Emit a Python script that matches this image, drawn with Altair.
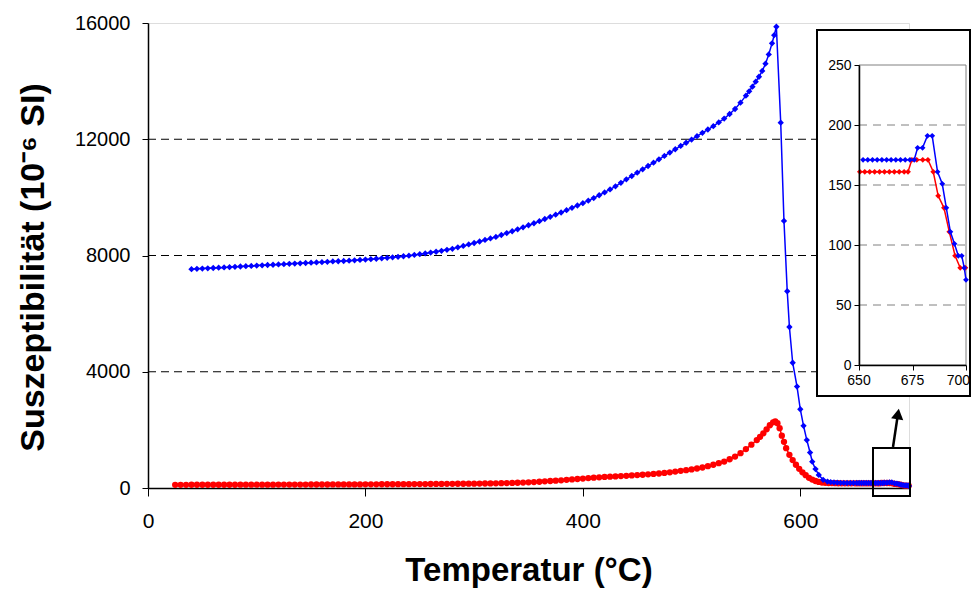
import altair as alt
import pandas as pd

# ---------------- data ----------------
BLUE_T = [40, 45, 50, 55, 60, 65, 70, 75, 80, 85, 90, 95, 100, 105, 110, 115, 120, 125, 130, 135,
          140, 145, 150, 155, 160, 165, 170, 175, 180, 185, 190, 195, 200, 205, 210, 215, 220, 225,
          230, 235, 240, 245, 250, 255, 260, 265, 270, 275, 280, 285, 290, 295, 300, 305, 310, 315,
          320, 325, 330, 335, 340, 345, 350, 355, 360, 365, 370, 375, 380, 385, 390, 395, 400, 405,
          410, 415, 420, 425, 430, 435, 440, 445, 450, 455, 460, 465, 470, 475, 480, 485, 490, 495,
          500, 505, 510, 515, 520, 525, 530, 535, 540, 545, 550,
          553, 556, 559, 562, 565, 568, 571, 574, 576, 578,
          582, 585, 588, 590, 593, 597, 600, 603, 606, 609, 611, 614, 617, 621, 625, 628, 631, 634,
          637, 640, 643, 646, 649,
          651.9, 654.1, 656.3, 658.5, 660.7, 662.9, 665.0, 667.2, 669.4, 671.6, 673.8, 675.8,
          677.4, 679.7, 682.0, 684.2, 686.7, 688.9, 690.8, 692.7, 694.6, 696.4, 698.0, 699.2, 700.0]
BLUE_V = [7530, 7540, 7550, 7560, 7570, 7580, 7590, 7600, 7610, 7621, 7632, 7642, 7652, 7662, 7672,
          7682, 7692, 7702, 7712, 7722, 7732, 7742, 7752, 7762, 7772, 7783, 7795, 7802, 7810, 7822,
          7835, 7847, 7860, 7874, 7888, 7904, 7920, 7937, 7955, 7975, 7995, 8020, 8045, 8072, 8100,
          8130, 8160, 8195, 8230, 8280, 8330, 8380, 8430, 8482, 8535, 8587, 8640, 8705, 8770, 8835,
          8900, 8970, 9040, 9110, 9180, 9255, 9330, 9405, 9480, 9560, 9640, 9720, 9800, 9887, 9975,
          10072, 10170, 10275, 10380, 10500, 10620, 10735, 10850, 10965, 11080, 11195, 11310, 11425,
          11540, 11655, 11770, 11880, 11990, 12105, 12220, 12335, 12450, 12580, 12710, 12870, 13040,
          13260, 13500,
          13650, 13810, 13980, 14150, 14350, 14600, 14920, 15300, 15580, 15870,
          12570, 9190, 6770, 5540, 4310, 3490, 2710, 2140, 1650, 1220, 905, 650, 450, 280, 220, 200,
          190, 182, 178, 175, 173, 172, 171,
          171, 171, 171, 171, 171, 171, 171, 171, 171, 171, 171, 171,
          181, 181, 191, 191, 161, 151, 131, 111, 101, 91, 91, 81, 71]

RED_T = [25, 30, 35, 40, 45, 50, 55, 60, 65, 70, 75, 80, 85, 90, 95, 100, 105, 110, 115, 120, 125,
         130, 135, 140, 145, 150, 155, 160, 165, 170, 175, 180, 185, 190, 195, 200, 205, 210, 215,
         220, 225, 230, 235, 240, 245, 250, 255, 260, 265, 270, 275, 280, 285, 290, 295, 300, 305,
         310, 315, 320, 325, 330, 335, 340, 345, 350, 355, 360, 365, 370, 375, 380, 385, 390, 395,
         400, 405, 410, 415, 420, 425, 430, 435, 440, 445, 450, 455, 460, 465, 470, 475, 480, 485,
         490, 495, 500, 505, 510, 515, 520, 525, 530, 535, 540, 545, 550, 555, 560,
         563, 566, 569, 572, 575, 577, 579, 581, 583, 585, 587, 590, 593, 596, 599, 602, 605, 608,
         611, 614, 617, 620, 623, 626, 629, 632, 635, 638, 641, 644, 647,
         650.4, 652.7, 655.0, 657.3, 659.6, 661.9, 664.2, 666.5, 668.8, 671.1, 672.9,
         674.7, 677.0, 679.8, 682.2, 684.7, 687.0, 689.7, 692.2, 694.9, 697.3, 699.7]
RED_V = [110, 110, 110, 111, 111, 111, 112, 112, 112, 113, 113, 113, 114, 114, 114, 115, 115, 116,
         116, 117, 117, 118, 118, 119, 119, 120, 120, 121, 121, 122, 122, 123, 123, 124, 124, 125,
         126, 127, 128, 129, 130, 131, 132, 133, 134, 135, 136, 138, 139, 141, 142, 144, 145, 147,
         148, 150, 153, 155, 158, 161, 165, 170, 175, 180, 187, 195, 205, 215, 228, 240, 252, 265,
         280, 295, 310, 325, 340, 355, 368, 380, 390, 400, 410, 420, 432, 445, 457, 470, 485, 500,
         520, 540, 565, 590, 615, 640, 670, 705, 750, 800, 855, 910, 990, 1080, 1200, 1340, 1490,
         1650,
         1760, 1880, 2020, 2160, 2260, 2290, 2230, 2060, 1800, 1590, 1370, 1140, 960, 800, 660, 540,
         440, 350, 290, 240, 210, 185, 178, 172, 168, 165, 163, 162, 161, 161, 161,
         161, 161, 161, 161, 161, 161, 161, 161, 161, 161, 161,
         171, 171, 171, 171, 161, 141, 131, 111, 91, 81, 81]

X_TICKS = [0, 200, 400, 600]
Y_TICKS = [0, 4000, 8000, 12000, 16000]
GRID_Y = [4000, 8000, 12000]

INSET_X_TICKS = [650, 675, 700]
INSET_Y_TICKS = [0, 50, 100, 150, 200, 250]
INSET_GRID_Y = [50, 100, 150, 200]

assert len(BLUE_T) == len(BLUE_V) and len(RED_T) == len(RED_V)

blue = pd.DataFrame({"T": BLUE_T, "V": BLUE_V})
red = pd.DataFrame({"T": RED_T, "V": RED_V})
blue_in = blue[blue["T"] >= 650]
red_in = red[red["T"] >= 650]
one = pd.DataFrame({"a": [0]})

# ---------------- layout ----------------
W, H = 761, 465
IN_X0, IN_X1 = 711, 818      # inset plot area (pixels within main plot)
IN_Y0, IN_Y1 = 42, 342
FONT = "Liberation Sans"
BLUE_C = "#0000FF"
RED_C = "#FF0000"

x_main = alt.X("T:Q", scale=alt.Scale(domain=[0, 700], nice=False, zero=False),
               axis=alt.Axis(values=X_TICKS, title="Temperatur (°C)", labelFontSize=21,
                             labelPadding=14, tickSize=8, tickColor="black", domainColor="black",
                             domainWidth=1.5, labelFlush=False, grid=False,
                             titleFontSize=33, titleFontWeight="bold", titleY=66,
                             titleBaseline="top", labelColor="black", titleColor="black"))
y_main = alt.Y("V:Q", scale=alt.Scale(domain=[0, 16000], nice=False),
               axis=alt.Axis(values=Y_TICKS, format="d", title="Suszeptibilität (10⁻⁶ SI)",
                             labelFontSize=20, labelPadding=12, tickSize=6, tickColor="black",
                             domainColor="black", domainWidth=1.5, labelFlush=False, grid=False,
                             titleFontSize=34, titleFontWeight="bold", titleAngle=270,
                             titleX=-132, titleY=244, titleBaseline="top", titleAlign="center",
                             labelColor="black", titleColor="black"))

grid = alt.Chart(pd.DataFrame({"V": GRID_Y})).mark_rule(
    color="black", strokeDash=[8, 5], strokeWidth=1).encode(
    y=y_main, x=alt.value(0), x2=alt.value(W))

def series(df, color, x, y, shape="diamond", size=36):
    line = alt.Chart(df).mark_line(color=color, strokeWidth=1.5).encode(x=x, y=y)
    pts = alt.Chart(df).mark_point(shape=shape, filled=True, size=size, color=color,
                                   opacity=1).encode(x=x, y=y)
    return [line, pts]

zoom_box = alt.Chart(one).mark_rect(filled=False, stroke="black", strokeWidth=2).encode(
    x=alt.value(725), x2=alt.value(762), y=alt.value(425), y2=alt.value(473))
arrow_shaft = alt.Chart(one).mark_rule(color="black", strokeWidth=2.5).encode(
    x=alt.value(745), x2=alt.value(749.5), y=alt.value(424), y2=alt.value(394))
arrow_head = alt.Chart(one).mark_point(shape="triangle-up", filled=True, size=150, color="black",
                                       opacity=1, angle=9).encode(
    x=alt.value(750), y=alt.value(391))

main = alt.layer(grid, *series(red, RED_C, x_main, y_main, shape="circle", size=40),
                 *series(blue, BLUE_C, x_main, y_main, shape="diamond", size=40),
                 zoom_box, arrow_shaft, arrow_head)

# ---------------- inset ----------------
x_in = alt.X("T:Q", scale=alt.Scale(domain=[650, 700], range=[IN_X0, IN_X1], nice=False, zero=False),
             axis=alt.Axis(orient="bottom", offset=-(H - IN_Y1), values=INSET_X_TICKS, title=None,
                           labels=False, tickSize=5, tickColor="black",
                           domainColor="black", domainWidth=1.5, grid=False, zindex=2))
y_in = alt.Y("V:Q", scale=alt.Scale(domain=[0, 250], range=[IN_Y1, IN_Y0], nice=False),
             axis=alt.Axis(orient="left", offset=-IN_X0, values=INSET_Y_TICKS, title=None,
                           labelFontSize=14, labelPadding=3, tickSize=5, tickColor="black",
                           domainColor="black", domainWidth=1.5, labelFlush=False, grid=False,
                           zindex=2, labelColor="black"))

frame = alt.Chart(one).mark_rect(fill="white", stroke="black", strokeWidth=2).encode(
    x=alt.value(669), x2=alt.value(822), y=alt.value(7), y2=alt.value(373))
in_border = alt.Chart(one).mark_rect(filled=False, stroke="#808080", strokeWidth=1).encode(
    x=alt.value(IN_X0), x2=alt.value(IN_X1), y=alt.value(IN_Y0), y2=alt.value(IN_Y1))
in_grid = alt.Chart(pd.DataFrame({"V": INSET_GRID_Y})).mark_rule(
    color="#808080", strokeDash=[8, 6], strokeWidth=1).encode(
    y=y_in, x=alt.value(IN_X0), x2=alt.value(IN_X1))

# inset x tick labels as text through the inset x scale (last one kept inside the page)
lab_df = pd.DataFrame({"T": INSET_X_TICKS, "lab": [str(v) for v in INSET_X_TICKS]})
in_lab_c = alt.Chart(lab_df[lab_df["T"] < 700]).mark_text(
    fontSize=14, font=FONT, color="black", align="center", baseline="top").encode(
    x=x_in, y=alt.value(IN_Y1 + 9), text="lab:N")
in_lab_r = alt.Chart(lab_df[lab_df["T"] >= 700]).mark_text(
    fontSize=14, font=FONT, color="black", align="right", baseline="top", dx=4).encode(
    x=x_in, y=alt.value(IN_Y1 + 9), text="lab:N")

inset = alt.layer(frame, in_border, in_grid,
                  *series(red_in, RED_C, x_in, y_in, size=34),
                  *series(blue_in, BLUE_C, x_in, y_in, size=34),
                  in_lab_c, in_lab_r)

chart = alt.layer(main, inset).resolve_scale(x="independent", y="independent").properties(
    width=W, height=H,
    autosize=alt.AutoSizeParams(type="none"),
    padding={"left": 140, "top": 15, "right": 62, "bottom": 100},
).configure_view(stroke="#808080", strokeWidth=1).configure_axis(
    labelFont=FONT, titleFont=FONT).configure(background="white")

chart.save("out.html", embed_options={"renderer": "svg", "actions": False})
